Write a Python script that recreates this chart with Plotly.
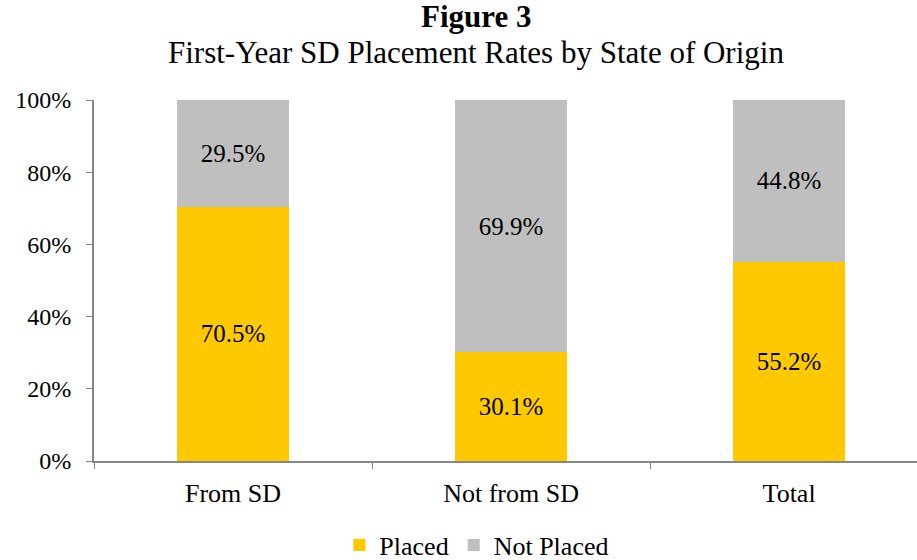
import plotly.graph_objects as go

categories = ["From SD", "Not from SD", "Total"]
placed = [70.5, 30.1, 55.2]
not_placed = [29.5, 69.9, 44.8]
y_ticks = [0, 20, 40, 60, 80, 100]
y_tick_labels = ["0%", "20%", "40%", "60%", "80%", "100%"]

FONT = "Liberation Serif"

fig = go.Figure()
fig.add_trace(go.Bar(
    name="Placed", x=categories, y=placed,
    marker=dict(color="#FFC900", line=dict(width=0)),
    text=[f"{v:.1f}%" for v in placed], textposition="inside",
    insidetextanchor="middle", textfont=dict(family=FONT, size=25, color="#000000"),
    width=0.4,
))
fig.add_trace(go.Bar(
    name="Not Placed", x=categories, y=not_placed,
    marker=dict(color="#BFBFBF", line=dict(width=0)),
    text=[f"{v:.1f}%" for v in not_placed], textposition="inside",
    insidetextanchor="middle", textfont=dict(family=FONT, size=25, color="#000000"),
    width=0.4,
))

fig.update_layout(
    barmode="stack",
    width=917, height=560,
    margin=dict(l=94, r=0, t=100, b=99, autoexpand=False),
    paper_bgcolor="white", plot_bgcolor="white",
    font=dict(family=FONT, size=24, color="#000000"),
    uniformtext=dict(mode="show", minsize=10),
    showlegend=True,
    legend=dict(orientation="h", xref="container", x=0.52, xanchor="center",
                yref="paper", y=-(545 - 461) / 361, yanchor="middle",
                font=dict(family=FONT, size=26), traceorder="normal",
                itemwidth=30, tracegroupgap=0),
    annotations=[
        dict(text="<b>Figure 3</b>", xref="paper", yref="paper",
             x=(476 - 94) / 823, y=1.0, yshift=84, yanchor="middle",
             showarrow=False, font=dict(family=FONT, size=31)),
        dict(text="First-Year SD Placement Rates by State of Origin", xref="paper",
             yref="paper", x=(476 - 94) / 823, y=1.0, yshift=48, yanchor="middle",
             showarrow=False, font=dict(family=FONT, size=31)),
    ],
)
fig.update_xaxes(
    range=[-0.5, 2.46], showline=True, linecolor="#868686", linewidth=2,
    ticks="outside", tickson="boundaries", ticklen=6, tickcolor="#868686",
    tickwidth=1, showgrid=False, tickfont=dict(family=FONT, size=26),
    automargin=False, ticklabelstandoff=8,
)
fig.update_yaxes(
    range=[0, 100], tickvals=y_ticks, ticktext=y_tick_labels,
    showline=True, linecolor="#868686", linewidth=2, ticks="outside",
    ticklen=6, tickcolor="#868686", tickwidth=1, showgrid=False,
    tickfont=dict(family=FONT, size=24), zeroline=False,
    automargin=False, ticklabelstandoff=10,
)

fig.write_html("out.html", config={"displayModeBar": False},
               post_script="document.body.style.margin='0';")
